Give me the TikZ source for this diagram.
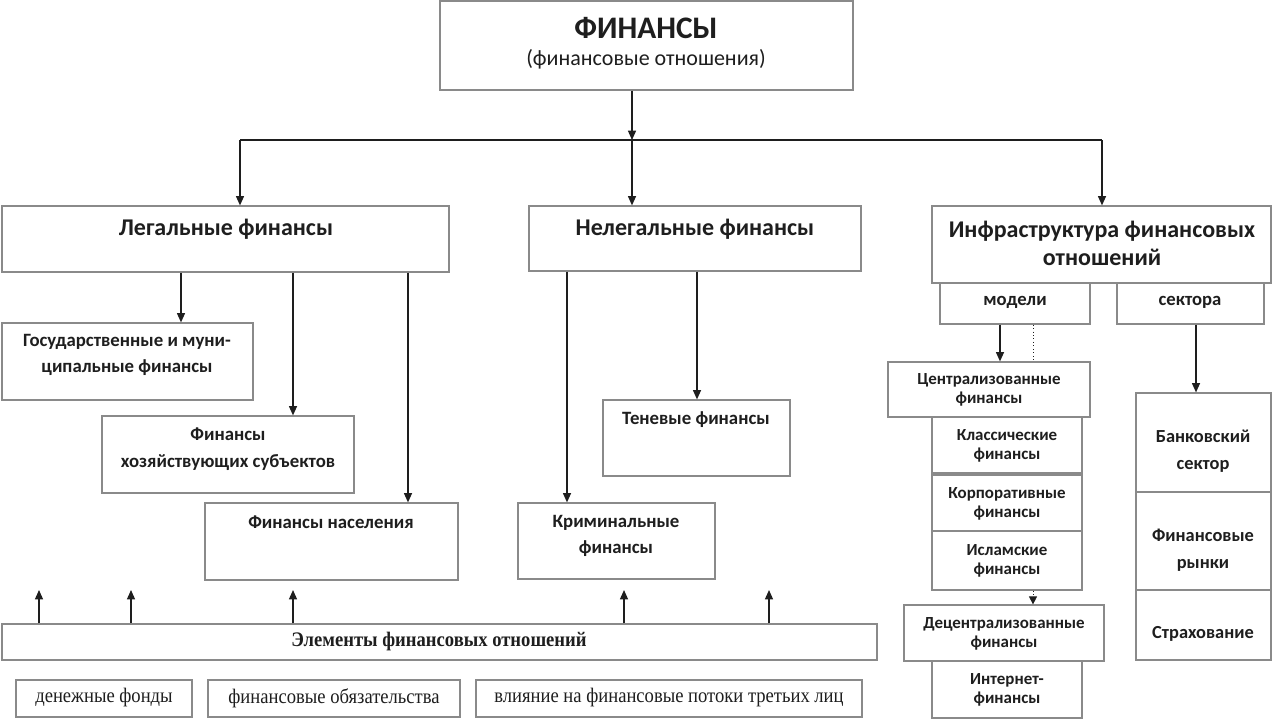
\documentclass[tikz,border=0pt]{standalone}
\usepackage{fontspec}
\setmainfont{Carlito}
\newfontfamily\tms[FakeStretch=0.9]{Liberation Serif}
\usetikzlibrary{arrows.meta}
\definecolor{bordc}{HTML}{8A8A8A}
\definecolor{txtc}{HTML}{1E1E1E}
\tikzset{
  bx/.style={draw=bordc, line width=0.9pt, fill=white, inner sep=0pt},
  lbl/.style={text=txtc, font=\bfseries, align=center, inner sep=0pt},
  arr/.style={draw=txtc, line width=1pt, -{Triangle[length=7pt,width=6pt]}},
  big/.style={font=\bfseries\fontsize{18}{21}\selectfont},
  mid/.style={font=\bfseries\fontsize{14.1}{20}\selectfont},
  sml/.style={font=\bfseries\fontsize{12.7}{14.5}\selectfont},
  sec/.style={font=\bfseries\fontsize{13.8}{20}\selectfont},
  rom/.style={font=\tms\mdseries\fontsize{15.5}{18}\selectfont},
}
\newcommand{\mybox}[5]{\node[bx, minimum width={(#4-#2)*0.75pt}, minimum height={(#5-#3)*0.75pt}] (#1) at ({(#2+#4)/2},{(#3+#5)/2}) {};}
\begin{document}
\begin{tikzpicture}[x=0.75pt,y=-0.75pt]
\useasboundingbox (0,0) rectangle (1272,719);
% top
\mybox{fin}{440}{1}{853}{90}
\node[lbl, font=\bfseries\fontsize{23.5}{28}\selectfont] (finT) at (646,28) {ФИНАНСЫ};
\node[lbl, font=\fontsize{16.5}{19}\selectfont] (finS) at (646,59) {(финансовые отношения)};
% level 2
\mybox{leg}{2}{206}{449}{272}
\node[lbl, big] (legT) at (226,229) {Легальные финансы};
\mybox{neleg}{529}{206}{861}{271}
\node[lbl, big] (nelegT) at (695,229) {Нелегальные финансы};
\mybox{infra}{932}{206}{1271}{283}
\node[lbl, big] (infraT) at (1102,243) {Инфраструктура финансовых\\отношений};
\coordinate (split) at (632,140);
\draw[draw=txtc, line width=1pt] (240,0 |- split) -- (1102,0 |- split);
\draw[arr] (fin.south -| split) -- (split);
\draw[arr] (240,0 |- split) -- (240,0 |- leg.north);
\draw[arr] (split) -- (split |- neleg.north);
\draw[arr] (1102,0 |- split) -- (1102,0 |- infra.north);
% infra sub
\mybox{mod}{940}{283}{1090}{324}
\node[lbl, font=\bfseries\fontsize{14}{16}\selectfont] (modT) at (1015,302) {модели};
\mybox{sek}{1117}{283}{1264}{324}
\node[lbl, font=\bfseries\fontsize{14}{16}\selectfont] (sekT) at (1190,302) {сектора};
\mybox{centr}{888}{362}{1090}{417}
\node[lbl, sml] (centrT) at (989,390) {Централизованные\\финансы};
\mybox{klas}{932}{417}{1082}{473}
\node[lbl, sml] (klasT) at (1007,446) {Классические\\финансы};
\mybox{korp}{932}{475}{1082}{531}
\node[lbl, sml] (korpT) at (1007,504) {Корпоративные\\финансы};
\mybox{isl}{932}{531}{1082}{590}
\node[lbl, sml] (islT) at (1007,561) {Исламские\\финансы};
\mybox{decen}{904}{605}{1104}{661}
\node[lbl, sml] (decenT) at (1004,634) {Децентрализованные\\финансы};
\mybox{inet}{932}{661}{1082}{718}
\node[lbl, sml] (inetT) at (1007,690) {Интернет-\\финансы};
\draw[arr] (1000,0 |- mod.south) -- (1000,0 |- centr.north);
\draw[draw=txtc, line width=0.6pt, dotted] (1033,0 |- mod.south) -- (1033,0 |- centr.north);
\draw[draw=txtc, line width=0.6pt, dotted, -{Triangle[length=6pt,width=6pt]}] (1033,0 |- isl.south) -- (1033,0 |- decen.north);
\mybox{bank}{1136}{393}{1271}{492}
\node[lbl, sec] (bankT) at (1203,451) {Банковский\\сектор};
\mybox{rynk}{1136}{492}{1271}{590}
\node[lbl, sec] (rynkT) at (1203,550) {Финансовые\\рынки};
\mybox{strah}{1136}{590}{1271}{660}
\node[lbl, sec] (strahT) at (1203,634) {Страхование};
\draw[arr] (1196,0 |- sek.south) -- (1196,0 |- bank.north);
% legal sub
\mybox{gos}{2}{323}{253}{400}
\node[lbl, mid] (gosT) at (127,355) {Государственные и муни-\\ципальные финансы};
\mybox{hoz}{102}{416}{354}{493}
\node[lbl, mid] (hozT) at (228,449) {Финансы\\хозяйствующих субъектов};
\mybox{nas}{205}{503}{458}{580}
\node[lbl, mid] (nasT) at (331,522) {Финансы населения};
\draw[arr] (181,0 |- leg.south) -- (181,0 |- gos.north);
\draw[arr] (293,0 |- leg.south) -- (293,0 |- hoz.north);
\draw[arr] (408,0 |- leg.south) -- (408,0 |- nas.north);
% illegal sub
\mybox{krim}{518}{503}{715}{579}
\node[lbl, mid] (krimT) at (616,536) {Криминальные\\финансы};
\mybox{ten}{603}{400}{790}{476}
\node[lbl, mid] (tenT) at (696,420) {Теневые финансы};
\draw[arr] (567,0 |- neleg.south) -- (567,0 |- krim.north);
\draw[arr] (697,0 |- neleg.south) -- (697,0 |- ten.north);
% elements
\mybox{elem}{2}{624}{877}{660}
\node[lbl, font=\tms\bfseries\fontsize{15.5}{18}\selectfont] (elemT) at (439,642) {Элементы финансовых отношений};
\foreach \xx/\nm in {39/a,131/b,293/c,624/d,769/e}{
  \coordinate (up\nm) at (\xx,590);
  \draw[arr] (\xx,0 |- elem.north) -- (up\nm);
}
\mybox{den}{16}{680}{192}{717}
\node[lbl, rom] (denT) at (104,698) {денежные фонды};
\mybox{obz}{208}{680}{460}{717}
\node[lbl, rom] (obzT) at (334,698) {финансовые обязательства};
\mybox{vl}{476}{680}{862}{717}
\node[lbl, rom] (vlT) at (669,698) {влияние на финансовые потоки третьих лиц};
\end{tikzpicture}
\end{document}
